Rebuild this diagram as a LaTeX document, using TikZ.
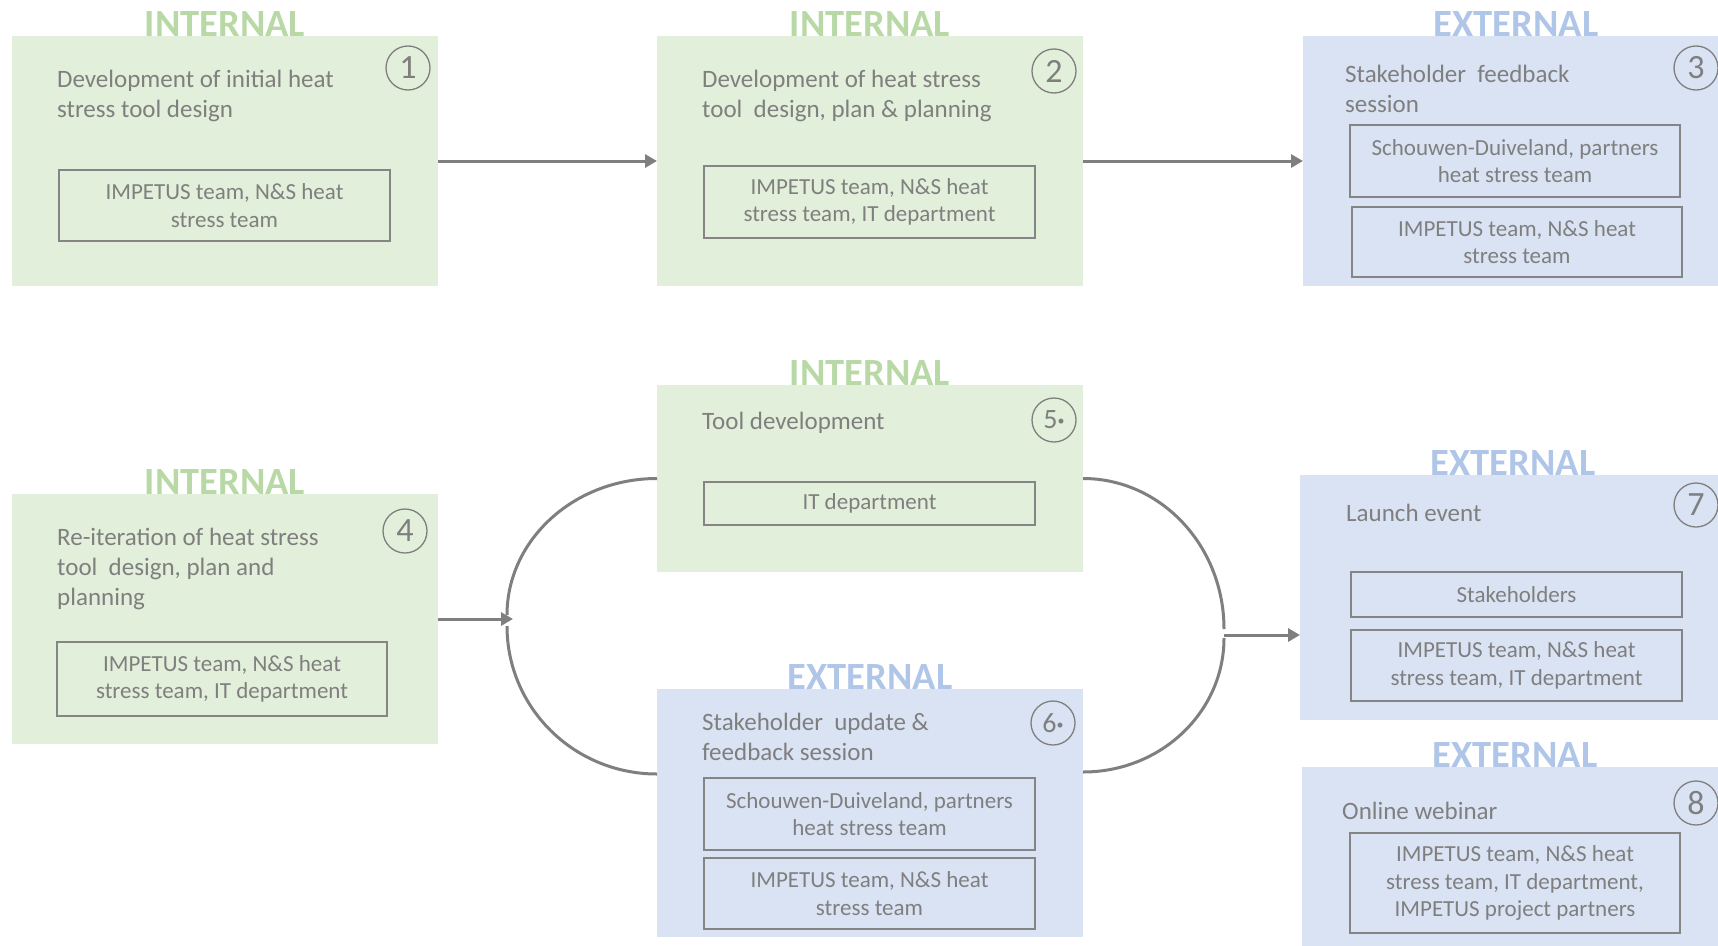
\documentclass[tikz,border=0pt]{standalone}
\usepackage{fontspec}
\setmainfont{Carlito}
\usetikzlibrary{arrows.meta}

\definecolor{grnfill}{HTML}{E2EFDA}
\definecolor{blufill}{HTML}{DAE3F3}
\definecolor{grnhead}{HTML}{B8D9A6}
\definecolor{bluhead}{HTML}{B0C6E8}
\definecolor{txtgray}{HTML}{7F7F7F}
\definecolor{boxgray}{HTML}{858585}
\definecolor{linegray}{HTML}{7F7F7F}

% fixes the height of the first line of a title
\newcommand{\titlestrut}{\rule{0pt}{20pt}}

\tikzset{
  stage/.style={rectangle, inner sep=0pt, outer sep=0pt, minimum width=426pt, anchor=north west},
  internal/.style={stage, fill=grnfill},
  external/.style={stage, fill=blufill},
  headint/.style={anchor=base, inner sep=0pt, text=grnhead, font=\fontsize{38.5}{38.5}\selectfont\bfseries},
  headext/.style={headint, text=bluhead},
  title/.style={anchor=north west, inner sep=0pt, align=left, text=txtgray, font=\fontsize{25}{30}\selectfont},
  party/.style={draw=boxgray, line width=1.5pt, inner sep=0pt, outer sep=0pt, anchor=north west,
    align=center, text=txtgray, font=\fontsize{23}{27.5}\selectfont},
  stepnum/.style={circle, draw=linegray, line width=1.3pt, minimum size=44pt, inner sep=0pt,
    text=txtgray, font=\fontsize{34}{34}\selectfont},
  flow/.style={draw=linegray, line width=3pt, -{Triangle[length=12pt,width=13pt]}},
  link/.style={draw=linegray, line width=3pt},
}

\newcommand{\numdot}[1]{{\fontsize{28}{28}\selectfont #1\raisebox{3pt}{\fontsize{14}{14}\selectfont\textbullet}}}

\begin{document}
\begin{tikzpicture}[x=1pt,y=-1pt]
\useasboundingbox (0,0) rectangle (1718,945);
\fill[white] (0,0) rectangle (1718,945);
\clip (0,0) rectangle (1718,945);

% ---------- stage boxes ----------
\node[internal, minimum height=250pt] (b1) at (12,36) {};
\node[internal, minimum height=250pt] (b2) at (657,36) {};
\node[external, minimum height=250pt] (b3) at (1303,36) {};
\node[internal, minimum height=250pt] (b4) at (12,494) {};
\node[internal, minimum height=187pt] (b5) at (657,385) {};
\node[external, minimum height=248pt] (b6) at (657,689) {};
\node[external, minimum height=245pt] (b7) at (1300,475) {};
\node[external, minimum height=200pt] (b8) at (1302,767) {};

% ---------- headers ----------
\node[headint] (h1) at (b1.north) {INTERNAL};
\node[headint] (h2) at (b2.north) {INTERNAL};
\node[headext] (h3) at (b3.north) {EXTERNAL};
\node[headint] (h4) at (b4.north) {INTERNAL};
\node[headint] (h5) at (b5.north) {INTERNAL};
\node[headext] (h6) at (b6.north) {EXTERNAL};
\node[headext] (h7) at (b7.north) {EXTERNAL};
\node[headext] (h8) at (b8.north) {EXTERNAL};

% ---------- titles ----------
\node[title] (t1) at (57,67) {\titlestrut Development of initial heat\\stress tool design};
\node[title] (t2) at (702,67) {\titlestrut Development of heat stress\\tool\ \ design, plan \& planning};
\node[title] (t3) at (1345,62) {\titlestrut Stakeholder\ \ feedback\\session};
\node[title] (t4) at (57,525) {\titlestrut Re-iteration of heat stress\\tool\ \ design, plan and\\planning};
\node[title] (t5) at (702,409) {\titlestrut Tool development};
\node[title] (t6) at (702,710) {\titlestrut Stakeholder\ \ update \&\\feedback session};
\node[title] (t7) at (1346,501) {\titlestrut Launch event};
\node[title] (t8) at (1342,799) {\titlestrut Online webinar};

% ---------- participants ----------
\node[party, minimum width=331pt, minimum height=71pt] (i1) at (59,170)
  {IMPETUS team, N\&S heat\\stress team};
\node[party, minimum width=331pt, minimum height=72pt] (i2) at (704,166)
  {IMPETUS team, N\&S heat\\stress team, IT department};
\node[party, minimum width=330pt, minimum height=72pt] (i3a) at (1350,125)
  {Schouwen-Duiveland, partners\\heat stress team};
\node[party, minimum width=330pt, minimum height=70pt] (i3b) at (1352,207)
  {IMPETUS team, N\&S heat\\stress team};
\node[party, minimum width=330pt, minimum height=74pt] (i4) at (57,642)
  {IMPETUS team, N\&S heat\\stress team, IT department};
\node[party, minimum width=331pt, minimum height=43pt] (i5) at (704,482)
  {IT department};
\node[party, minimum width=331pt, minimum height=72pt] (i6a) at (704,778)
  {Schouwen-Duiveland, partners\\heat stress team};
\node[party, minimum width=331pt, minimum height=71pt] (i6b) at (704,858)
  {IMPETUS team, N\&S heat\\stress team};
\node[party, minimum width=331pt, minimum height=45pt] (i7a) at (1351,572)
  {Stakeholders};
\node[party, minimum width=331pt, minimum height=71pt] (i7b) at (1351,630)
  {IMPETUS team, N\&S heat\\stress team, IT department};
\node[party, minimum width=330pt, minimum height=100pt] (i8) at (1350,833)
  {IMPETUS team, N\&S heat\\stress team, IT department,\\IMPETUS project partners};

% ---------- step numbers ----------
\node[stepnum] (c1) at (408,68) {1};
\node[stepnum] (c2) at (1054,71) {2};
\node[stepnum] (c3) at (1696,68) {3};
\node[stepnum] (c4) at (405,531) {4};
\node[stepnum] (c5) at (1054,420) {\numdot{5}};
\node[stepnum] (c6) at (1053,723) {\numdot{6}};
\node[stepnum] (c7) at (1696,505) {7};
\node[stepnum] (c8) at (1696,803) {8};

% ---------- junction points ----------
\coordinate (jl)  at (513,619);
\coordinate (jlt) at (507,615);
\coordinate (jlb) at (507,626);
\coordinate (jr)  at (1224,635);
\coordinate (jrt) at (1224,629);
\coordinate (jrb) at (1224,638);
\coordinate (b6l) at ([yshift=39pt]b6.west);
\coordinate (b6r) at ([yshift=41pt]b6.east);
\coordinate (b7l) at ([yshift=-37.5pt]b7.west);

% ---------- connectors ----------
\draw[flow] (b1.east) -- (b2.west);
\draw[flow] (b2.east) -- (b3.west);
\draw[flow] (b4.east) -- (jl);
\draw[link] (b5.west) .. controls (574,478.5) and (507,540) .. (jlt);
\draw[link] (jlb) .. controls (507,708) and (574,774) .. (b6l);
\draw[link] (b5.east) .. controls (1161,478.5) and (1224,546) .. (jrt);
\draw[link] (jrb) .. controls (1224,712) and (1161,772) .. (b6r);
\draw[flow] (jr) -- (b7l);
\end{tikzpicture}
\end{document}
